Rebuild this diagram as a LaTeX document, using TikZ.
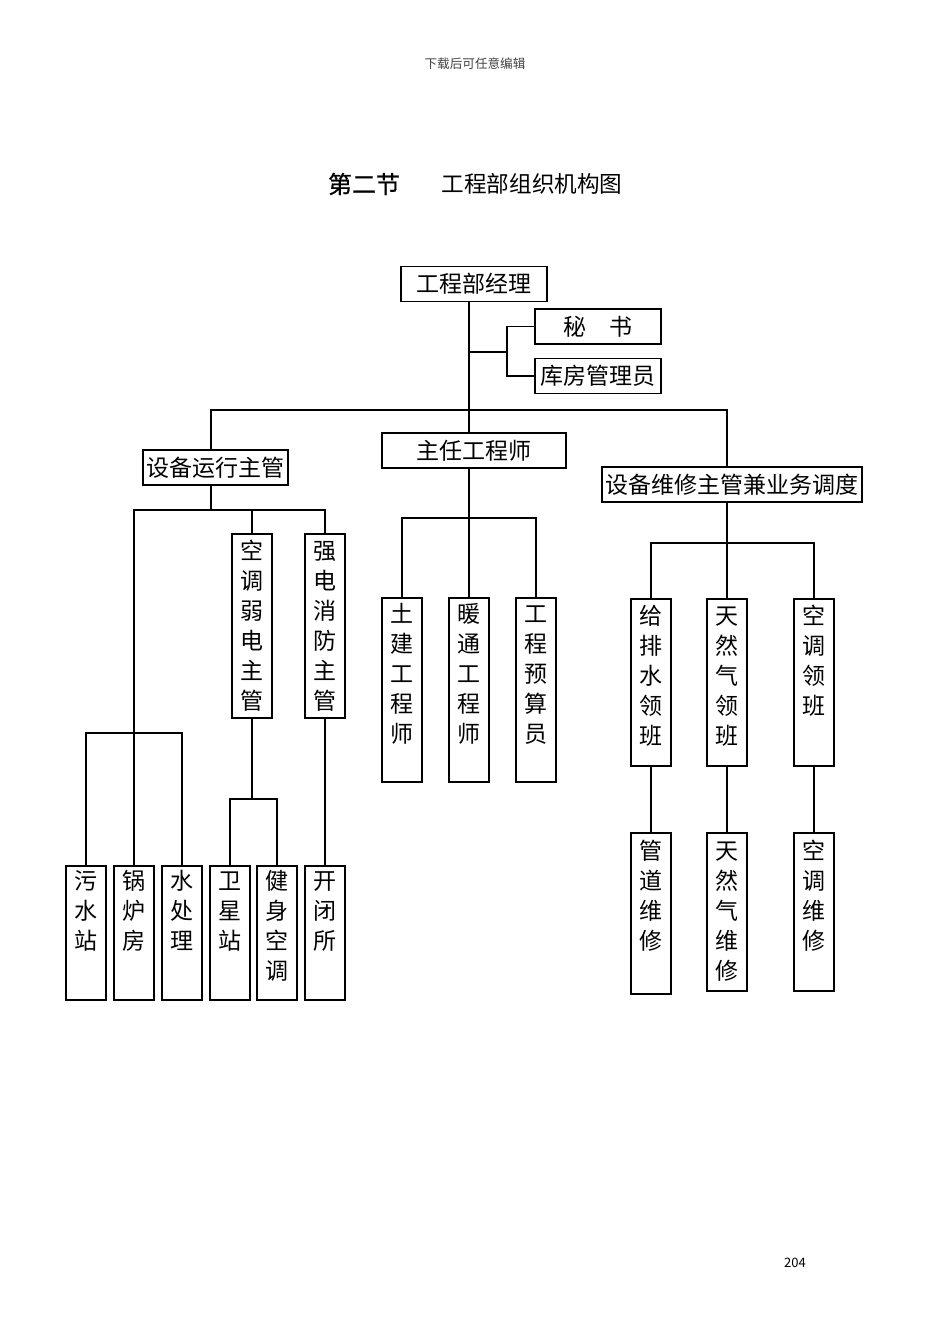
\documentclass[tikz,border=0pt]{standalone}
\usepackage{fontspec}
\newfontfamily\cjk{Noto Sans CJK SC}
\newfontfamily\cjkmed[FakeBold=0.8]{Noto Sans CJK SC}
\usetikzlibrary{calc}

\tikzset{
  orgline/.style={line width=0.9pt},
  hbox/.style={draw, line width=0.9pt, inner sep=0pt, minimum height=17.5pt,
    font=\cjk\fontsize{11.5}{14}\selectfont},
  vbox/.style={draw, line width=0.9pt, inner sep=0pt, anchor=north,
    text width=20pt, align=center, font=\cjk\fontsize{11.5}{15}\selectfont},
}

\begin{document}
\begin{tikzpicture}[x=0.5pt, y=-0.5pt]
  \useasboundingbox (0,0) rectangle (950,1344);

  % page head, title, page number
  \node[font=\cjk\fontsize{6.3}{8}\selectfont, text=black!75] (hdr) at (475,64) {下载后可任意编辑};
  \node[font=\cjkmed\fontsize{12}{14}\selectfont] (secno) at (364,184) {第二节};
  \node[font=\cjk\fontsize{11.3}{14}\selectfont] (title) at (532,184) {工程部组织机构图};
  \node[font=\cjk\fontsize{6.5}{8}\selectfont] (pgno) at (795,1263) {204};

  % top level
  \node[hbox, minimum width=73pt] (gm) at (474,284) {工程部经理};
  \node[hbox, minimum width=63pt] (ms) at (598,326.5) {秘\hspace{1em}书};
  \node[hbox, minimum width=63pt] (kf) at (598,376) {库房管理员};

  \node[hbox, minimum width=72.5pt] (yx) at (215.5,467.5) {设备运行主管};
  \node[hbox, minimum width=92pt] (zr) at (474,450.5) {主任工程师};
  \node[hbox, minimum width=130pt] (wx) at (732,484.5) {设备维修主管兼业务调度};

  % operation branch
  \node[vbox, text height=12.85pt, text depth=79.15pt] (kt) at (252,533) {空\\调\\弱\\电\\主\\管};
  \node[vbox, text height=12.85pt, text depth=79.15pt] (qd) at (325,533) {强\\电\\消\\防\\主\\管};

  \node[vbox, text height=11.85pt, text depth=55.15pt] (wsz) at (86,865) {污\\水\\站};
  \node[vbox, text height=11.85pt, text depth=55.15pt] (glf) at (134,865) {锅\\炉\\房};
  \node[vbox, text height=11.85pt, text depth=55.15pt] (scl) at (182,865) {水\\处\\理};
  \node[vbox, text height=11.85pt, text depth=55.15pt] (wxz) at (230,865) {卫\\星\\站};
  \node[vbox, text height=11.85pt, text depth=55.15pt] (jskt) at (277,865) {健\\身\\空\\调};
  \node[vbox, text height=11.85pt, text depth=55.15pt] (kbs) at (325,865) {开\\闭\\所};

  % engineer branch
  \node[vbox, text height=12.35pt, text depth=79.65pt] (tj) at (402,597) {土\\建\\工\\程\\师};
  \node[vbox, text height=12.35pt, text depth=79.65pt] (nt) at (469,597) {暖\\通\\工\\程\\师};
  \node[vbox, text height=12.35pt, text depth=79.65pt] (ys) at (536,597) {工\\程\\预\\算\\员};

  % maintenance branch
  \node[vbox, text height=12.85pt, text depth=70.65pt] (gp) at (651,598) {给\\排\\水\\领\\班};
  \node[vbox, text height=12.85pt, text depth=70.65pt] (tr) at (727,598) {天\\然\\气\\领\\班};
  \node[vbox, text height=12.85pt, text depth=70.65pt] (kl) at (814,598) {空\\调\\领\\班};

  \node[vbox, text height=13.35pt, text depth=67.15pt] (gd) at (651,832) {管\\道\\维\\修};
  \node[vbox, text height=13.35pt, text depth=65.65pt] (trw) at (727,832) {天\\然\\气\\维\\修};
  \node[vbox, text height=13.35pt, text depth=65.65pt] (kw) at (814,832) {空\\调\\维\\修};

  % bus points
  \coordinate (bus1) at (469,410);
  \coordinate (sec) at (507,352);
  \coordinate (ob) at (211,510);
  \coordinate (lb) at (134,733);
  \coordinate (kb) at (252,799);
  \coordinate (mb) at (469,518);
  \coordinate (rb) at (727,543);

  % connectors
  \draw[orgline] (bus1 |- gm.south) -- (bus1 |- zr.north);
  \draw[orgline] (bus1 |- sec) -- (sec);
  \draw[orgline] (ms.west) -| (sec) |- (kf.west);
  \draw[orgline] (ob |- yx.north) |- (bus1) -| (rb |- wx.north);

  \draw[orgline] (ob |- yx.south) -- (ob);
  \draw[orgline] (glf.north) |- (ob) -| (qd.north);
  \draw[orgline] (kt.north |- ob) -- (kt.north);
  \draw[orgline] (wsz.north) |- (lb) -| (scl.north);
  \draw[orgline] (kt.south) -- (kb);
  \draw[orgline] (wxz.north) |- (kb) -| (jskt.north);
  \draw[orgline] (qd.south) -- (kbs.north);

  \draw[orgline] (bus1 |- zr.south) -- (mb);
  \draw[orgline] (tj.north) |- (mb) -| (ys.north);
  \draw[orgline] (mb) -- (nt.north);

  \draw[orgline] (rb |- wx.south) -- (rb);
  \draw[orgline] (gp.north) |- (rb) -| (kl.north);
  \draw[orgline] (rb) -- (tr.north);
  \draw[orgline] (gp.south) -- (gd.north);
  \draw[orgline] (tr.south) -- (trw.north);
  \draw[orgline] (kl.south) -- (kw.north);
\end{tikzpicture}
\end{document}
